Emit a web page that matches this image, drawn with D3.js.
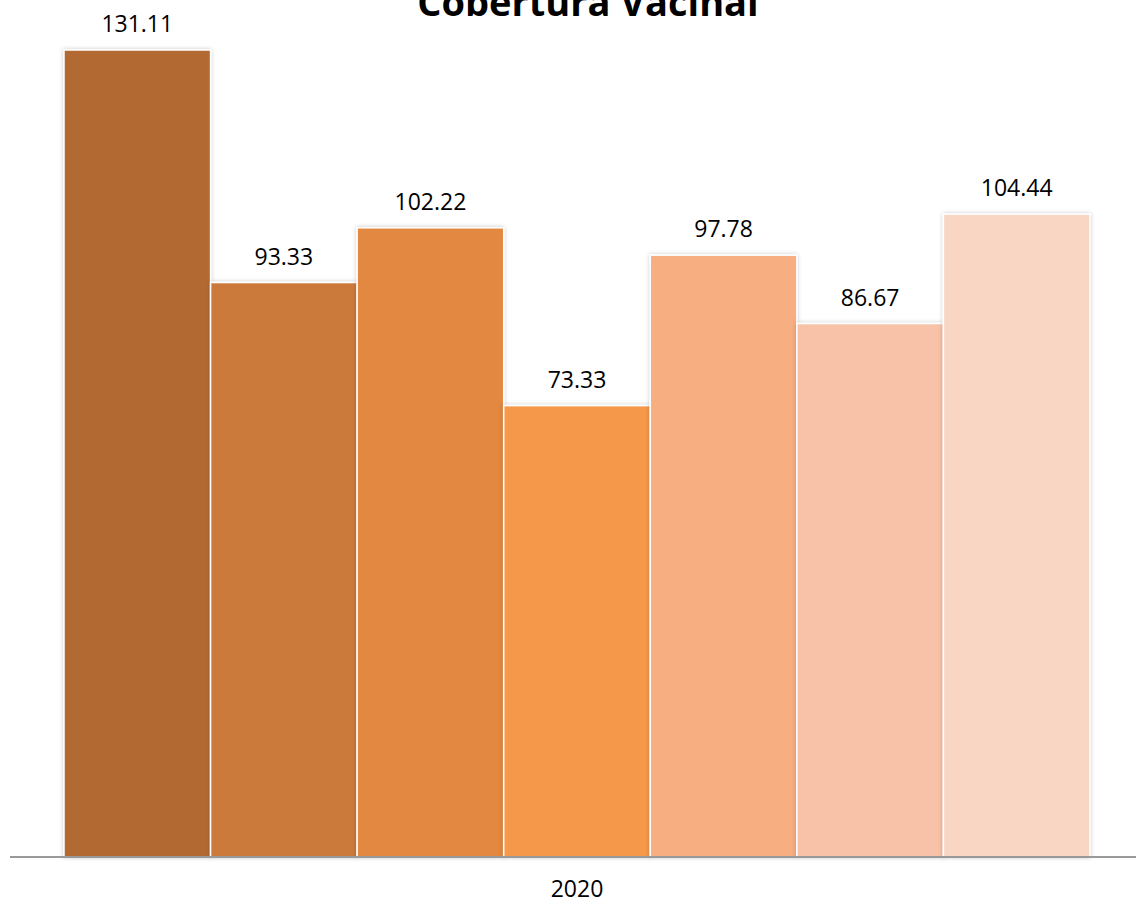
<!DOCTYPE html>
<html>
<head>
<meta charset="utf-8">
<script src="https://cdn.jsdelivr.net/npm/d3@7"></script>
<style>
  body { margin: 0; background: #fff; }
  text { font-family: "Open Sans", "Noto Sans", sans-serif; }
</style>
</head>
<body>
<div id="chart"></div>
<script>
var width = 1136,
    height = 909;

var categories = ["2020"];
var seriesNames = ["s1", "s2", "s3", "s4", "s5", "s6", "s7"];
var values = [131.11, 93.33, 102.22, 73.33, 97.78, 86.67, 104.44];
var barColors = ["#b36b33", "#cc7a3a", "#e2883f", "#f69848", "#f7af82", "#f8c2a8", "#f9d5c4"];

var baseY = 857;

var svg = d3.select("#chart").append("svg")
    .attr("width", width)
    .attr("height", height);

var defs = svg.append("defs");
var shadow = defs.append("filter").attr("id", "shadow")
    .attr("x", "-10%").attr("y", "-10%").attr("width", "120%").attr("height", "120%");
shadow.append("feDropShadow")
    .attr("dx", 0).attr("dy", 0).attr("stdDeviation", 2)
    .attr("flood-color", "#000").attr("flood-opacity", 0.22);

var x0 = d3.scaleBand()
    .domain(categories)
    .range([64, 1090])
    .padding(0);

var x1 = d3.scaleBand()
    .domain(seriesNames)
    .range([0, x0.bandwidth()])
    .padding(0);

var y = d3.scaleLinear()
    .domain([0, 131.11])
    .range([baseY, 50]);

var data = seriesNames.map(function(s, i) {
  return { name: s, value: values[i], color: barColors[i], cat: categories[0] };
});

// bars
svg.append("g").selectAll("rect.bar")
  .data(data)
  .enter().append("rect")
    .attr("class", "bar")
    .attr("x", function(d) { return x0(d.cat) + x1(d.name); })
    .attr("y", function(d) { return y(d.value); })
    .attr("width", x1.bandwidth())
    .attr("height", function(d) { return baseY - y(d.value); })
    .style("fill", function(d) { return d.color; })
    .style("stroke", "#fff")
    .style("stroke-width", 1.5)
    .attr("filter", "url(#shadow)");

// axis line
var xAxis = d3.axisBottom(x0).tickSize(0).tickPadding(24);
var axisG = svg.append("g")
    .attr("transform", "translate(0," + baseY + ")")
    .call(xAxis);
axisG.select(".domain").remove();
axisG.append("line")
    .attr("x1", 10).attr("x2", width)
    .attr("y1", 0).attr("y2", 0)
    .style("stroke", "#999")
    .style("stroke-width", 2);
axisG.selectAll(".tick text")
    .style("font-size", "23px")
    .style("fill", "#000")
    .style("font-family", "'Open Sans', sans-serif");

// value labels
svg.append("g").selectAll("text.label")
  .data(data)
  .enter().append("text")
    .attr("class", "label")
    .attr("x", function(d) { return x0(d.cat) + x1(d.name) + x1.bandwidth() / 2; })
    .attr("y", function(d) { return y(d.value) - 18; })
    .attr("text-anchor", "middle")
    .style("font-size", "23px")
    .text(function(d) { return d3.format(".2f")(d.value); });

// title
svg.append("text")
    .attr("x", 588)
    .attr("y", 16)
    .attr("text-anchor", "middle")
    .style("font-size", "38px")
    .style("font-weight", "bold")
    .text("Cobertura Vacinal");
</script>
</body>
</html>
